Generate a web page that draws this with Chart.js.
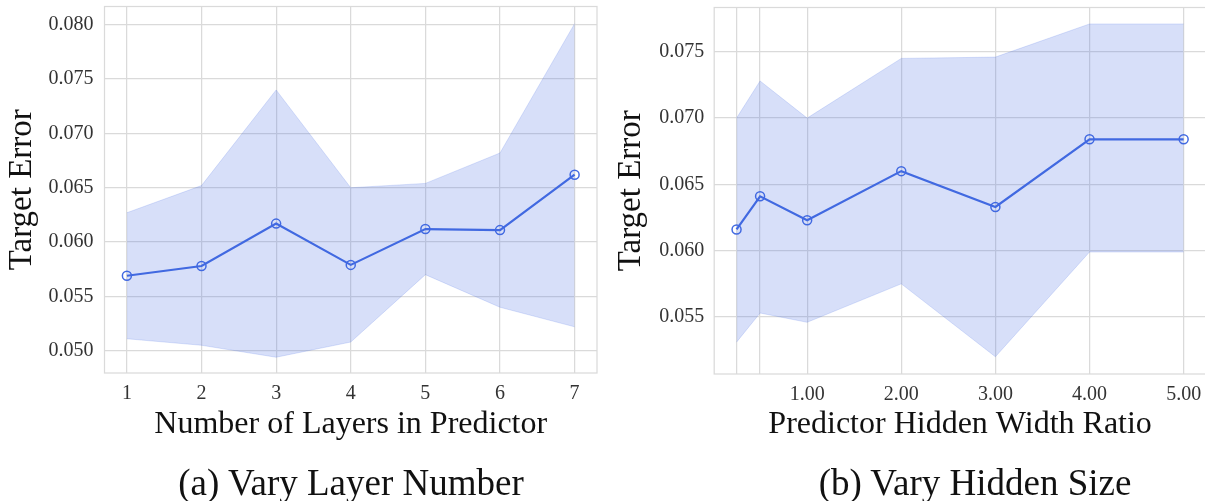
<!DOCTYPE html>
<html>
<head>
<meta charset="utf-8">
<script src="https://cdn.jsdelivr.net/npm/chart.js@4.4.1/dist/chart.umd.min.js"></script>
<style>
  html, body { margin: 0; padding: 0; background: #fff; }
  #wrap { position: relative; width: 1205px; height: 501px; overflow: hidden; }
  .panel { position: absolute; top: 0; }
  .sub {
    position: absolute; top: 461px; width: 600px; height: 44px; line-height: 44px;
    text-align: center; font-family: "Liberation Serif", "Times New Roman", serif;
    font-size: 37px; color: #111; white-space: nowrap;
  }
</style>
</head>
<body>
<div id="wrap">
  <canvas id="chartA" class="panel" width="602" height="501" style="left:0"></canvas>
  <canvas id="chartB" class="panel" width="604" height="501" style="left:602px"></canvas>
  <div class="sub" style="left:51px">(a) Vary Layer Number</div>
  <div class="sub" style="left:675px">(b) Vary Hidden Size</div>
</div>
<script>
// dados (a)
const layerCats = [1, 2, 3, 4, 5, 6, 7];
const layerMean = [0.0569, 0.0578, 0.0617, 0.0579, 0.0612, 0.0611, 0.0662];
const layerUpper = [0.0627, 0.0652, 0.0740, 0.0650, 0.0654, 0.0682, 0.0801];
const layerLower = [0.0511, 0.0505, 0.0494, 0.0508, 0.0570, 0.0540, 0.0522];
const layerXTicks = [1, 2, 3, 4, 5, 6, 7];
const layerYTicks = [0.050, 0.055, 0.060, 0.065, 0.070, 0.075, 0.080];

// dados (b)
const ratioCats = [0.25, 0.5, 1, 2, 3, 4, 5];
const ratioMean = [0.0616, 0.0641, 0.0623, 0.0660, 0.0633, 0.0684, 0.0684];
const ratioUpper = [0.0700, 0.0728, 0.0700, 0.0745, 0.0746, 0.0771, 0.0771];
const ratioLower = [0.0531, 0.0553, 0.0546, 0.0575, 0.0520, 0.0599, 0.0599];
const ratioXTicks = [0.25, 0.5, 1, 2, 3, 4, 5];
const ratioXLabels = ['', '', '1.00', '2.00', '3.00', '4.00', '5.00'];
const ratioYTicks = [0.055, 0.060, 0.065, 0.070, 0.075];

const SERIF = '"Liberation Serif", "Times New Roman", serif';
const BLUE = '#4169e1';
const BAND = 'rgba(65, 105, 225, 0.21)';
const GRID = '#dadada';

const toPts = (xs, ys) => xs.map((x, i) => ({ x: x, y: ys[i] }));

// sem folga extra dos rótulos: a área fica onde a gente manda
const noPadding = (s) => {
    s.paddingTop = 0; s.paddingBottom = 0;
    s.paddingLeft = 0; s.paddingRight = 0;
};

// moldura completa em volta da área do gráfico
const framePlugin = {
    id: 'frame',
    beforeDatasetsDraw(chart) {
        const a = chart.chartArea;
        const ctx = chart.ctx;
        ctx.save();
        ctx.strokeStyle = GRID;
        ctx.lineWidth = 1.25;
        ctx.strokeRect(a.left, a.top, a.right - a.left, a.bottom - a.top);
        ctx.restore();
    }
};

const makeChart = (id, cfg) => {
    const ctx = document.getElementById(id).getContext('2d');
    return new Chart(ctx, {
        type: 'line',
        data: {
            datasets: [
                {
                    data: toPts(cfg.cats, cfg.mean),
                    borderColor: BLUE,
                    borderWidth: 2.2,
                    pointRadius: 4.5,
                    pointBorderWidth: 1.5,
                    pointBorderColor: BLUE,
                    pointBackgroundColor: 'rgba(0,0,0,0)',
                    fill: false,
                    tension: 0
                },
                {
                    data: toPts(cfg.cats, cfg.upper),
                    borderColor: 'rgba(65, 105, 225, 0.18)',
                    borderWidth: 1,
                    pointRadius: 0,
                    backgroundColor: BAND,
                    fill: '+1',
                    tension: 0
                },
                {
                    data: toPts(cfg.cats, cfg.lower),
                    borderColor: 'rgba(65, 105, 225, 0.18)',
                    borderWidth: 1,
                    pointRadius: 0,
                    fill: false,
                    tension: 0
                }
            ]
        },
        options: {
            responsive: false,
            animation: false,
            layout: {
                autoPadding: false,
                padding: { left: 0, top: cfg.top, right: cfg.right, bottom: 60 }
            },
            plugins: {
                legend: { display: false },
                tooltip: { enabled: false }
            },
            scales: {
                x: {
                    type: 'linear',
                    min: cfg.xMin,
                    max: cfg.xMax,
                    afterBuildTicks: (s) => { s.ticks = cfg.xTicks.map(v => ({ value: v })); },
                    afterFit: (s) => { s.height = cfg.xHeight; noPadding(s); },
                    grid: { color: GRID, lineWidth: 1.25, drawTicks: false },
                    border: { display: false },
                    ticks: {
                        padding: 9,
                        color: '#333',
                        font: { family: SERIF, size: 20 },
                        maxRotation: 0,
                        callback: (v) => cfg.xLabel(v)
                    },
                    title: {
                        display: true,
                        text: cfg.xTitle,
                        color: '#111',
                        font: { family: SERIF, size: 32, lineHeight: 1 },
                        padding: { top: 0, bottom: 0 }
                    }
                },
                y: {
                    min: cfg.yMin,
                    max: cfg.yMax,
                    afterBuildTicks: (s) => { s.ticks = cfg.yTicks.map(v => ({ value: v })); },
                    afterFit: (s) => { s.width = cfg.yWidth; noPadding(s); },
                    grid: { color: GRID, lineWidth: 1.25, drawTicks: false },
                    border: { display: false },
                    ticks: {
                        padding: cfg.yPad,
                        color: '#333',
                        font: { family: SERIF, size: 20 },
                        callback: (v) => v.toFixed(3)
                    },
                    title: {
                        display: true,
                        text: 'Target Error',
                        color: '#111',
                        font: { family: SERIF, size: 33, lineHeight: 1 },
                        padding: { top: cfg.yTitlePad, bottom: 0 }
                    }
                }
            }
        },
        plugins: [framePlugin]
    });
};

makeChart('chartA', {
    cats: layerCats, mean: layerMean, upper: layerUpper, lower: layerLower,
    xTicks: layerXTicks, yTicks: layerYTicks,
    xLabel: (v) => String(v),
    xTitle: 'Number of Layers in Predictor',
    xMin: 0.7, xMax: 7.3, yMin: 0.04795, yMax: 0.08168,
    top: 6.5, right: 5, xHeight: 68, yWidth: 104.5, yPad: 11, yTitlePad: 6
});

makeChart('chartB', {
    cats: ratioCats, mean: ratioMean, upper: ratioUpper, lower: ratioLower,
    xTicks: ratioXTicks, yTicks: ratioYTicks,
    xLabel: (v) => ratioXLabels[ratioXTicks.indexOf(v)] || '',
    xTitle: 'Predictor Hidden Width Ratio',
    xMin: 0.0125, xMax: 5.2375, yMin: 0.0507, yMax: 0.07834,
    top: 7.5, right: 0, xHeight: 67, yWidth: 112.2, yPad: 10, yTitlePad: 12.5
});
</script>
</body>
</html>
